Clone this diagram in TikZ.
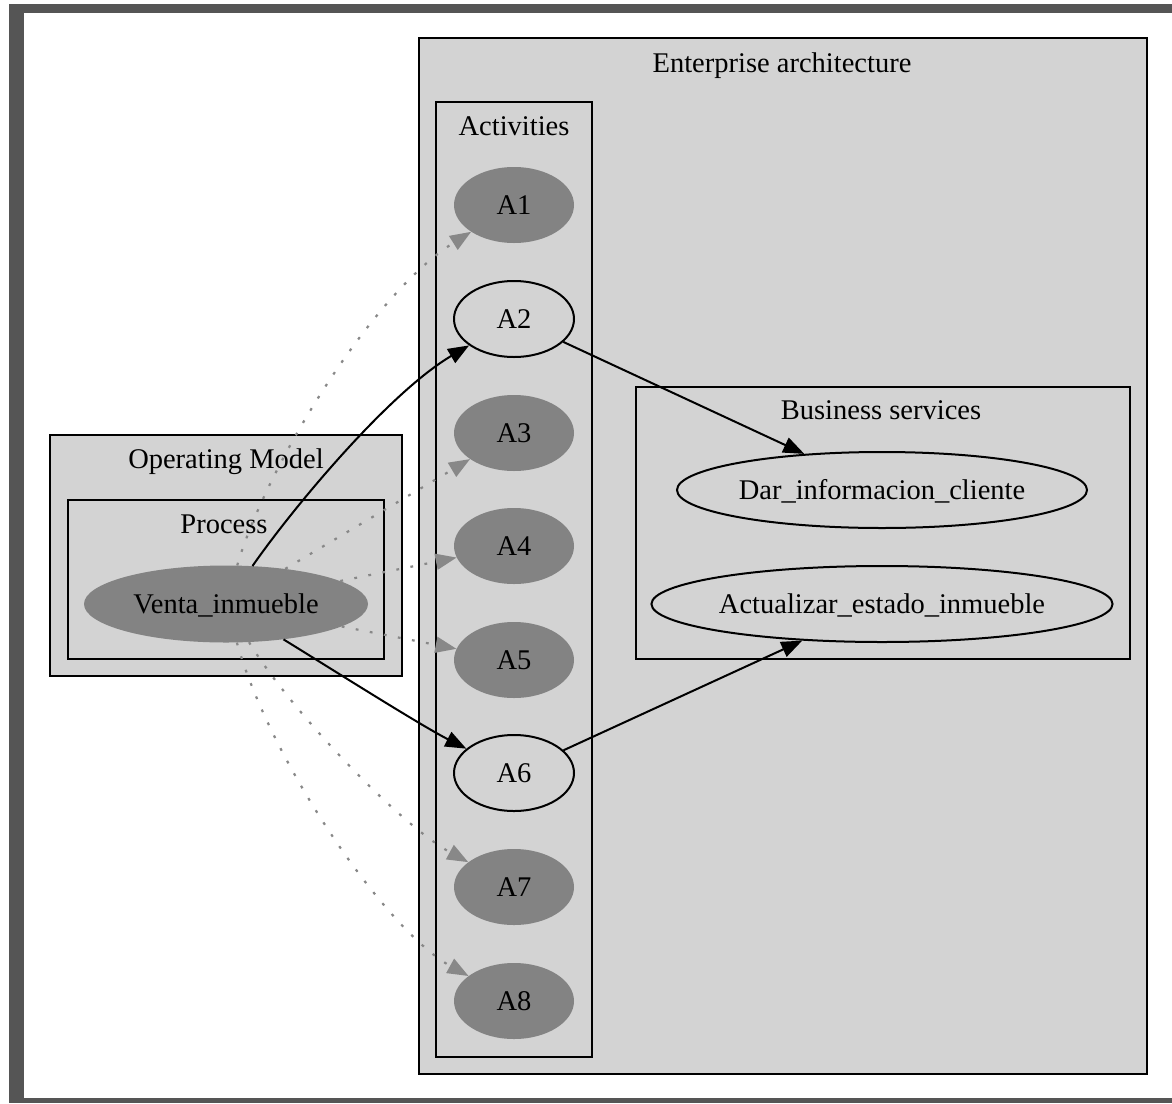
\documentclass[tikz,border=0pt]{standalone}
\usepackage{fontspec}
\setmainfont{Liberation Serif}
\usetikzlibrary{shapes.geometric,arrows.meta}
\definecolor{clfill}{HTML}{D3D3D3}
\definecolor{nodegray}{HTML}{838383}
\definecolor{edgegray}{HTML}{888888}
\definecolor{framegray}{HTML}{555555}
\begin{document}
\begin{tikzpicture}[x=1pt,y=-1pt,
  every node/.style={font=\fontsize{28.5}{34}\selectfont},
  cluster/.style={draw=black, fill=clfill, line width=2pt},
  cltitle/.style={anchor=base, inner sep=0pt},
  ell/.style={ellipse, inner sep=0pt, text height=19pt, text depth=0pt},
  act/.style={ell, draw=black, line width=2pt, minimum width=120pt, minimum height=76pt},
  actfilled/.style={ell, fill=nodegray, minimum width=120pt, minimum height=76pt},
  solidedge/.style={draw=black, line width=2pt, -{Triangle[length=21pt,width=16pt]}},
  dotedge/.style={draw=edgegray, line width=2.2pt, dash pattern=on 2.8pt off 11.5pt, -{Triangle[length=21pt,width=16pt]}}
]
\useasboundingbox (0,0) rectangle (1172,1103);
\fill[white] (0,0) rectangle (1172,1103);
% screenshot frame
\fill[framegray] (9,4) rectangle (1172,13);
\fill[framegray] (9,4) rectangle (24,1103);
\fill[framegray] (9,1098) rectangle (1172,1103);

% clusters
\draw[cluster] (419,38) rectangle (1147,1074);
\node[cltitle] (tEA) at (782,72) {Enterprise architecture};
\draw[cluster] (436,102) rectangle (592,1057);
\node[cltitle] (tAct) at (514,135) {Activities};
\draw[cluster] (636,387) rectangle (1130,659);
\node[cltitle] (tBS) at (881,419) {Business services};
\draw[cluster] (50,435) rectangle (402,676);
\node[cltitle] (tOM) at (226,468) {Operating Model};
\draw[cluster] (68,500) rectangle (384,659);
\node[cltitle] (tPr) at (224,533) {Process};

% nodes
\node[ell, fill=nodegray, minimum width=284pt, minimum height=77pt] (V) at (226,604) {Venta\_inmueble};
\node[actfilled] (A1) at (514,205) {A1};
\node[act] (A2) at (514,319) {A2};
\node[actfilled] (A3) at (514,433) {A3};
\node[actfilled] (A4) at (514,546) {A4};
\node[actfilled] (A5) at (514,660) {A5};
\node[act] (A6) at (514,773) {A6};
\node[actfilled] (A7) at (514,887) {A7};
\node[actfilled] (A8) at (514,1001) {A8};
\node[ell, draw=black, line width=2pt, minimum width=410pt, minimum height=76pt] (D) at (882,490) {Dar\_informacion\_cliente};
\node[ell, draw=black, line width=2pt, minimum width=454pt, minimum height=76pt] (U) at (882,604) {Actualizar\_estado\_inmueble};

% edges
\draw[dotedge] (V) .. controls (265,470) and (370,295) .. (A1);
\draw[dotedge] (V) -- (A3);
\draw[dotedge] (V) -- (A4);
\draw[dotedge] (V) -- (A5);
\draw[dotedge] (V) .. controls (290,710) and (400,825) .. (A7);
\draw[dotedge] (V) .. controls (270,760) and (385,930) .. (A8);
\draw[solidedge] (V) .. controls (295,505) and (390,392) .. (A2);
\draw[solidedge] (V) .. controls (330,668) and (420,725) .. (A6);
\draw[solidedge] (A2) -- (D);
\draw[solidedge] (A6) -- (U);
\end{tikzpicture}
\end{document}
